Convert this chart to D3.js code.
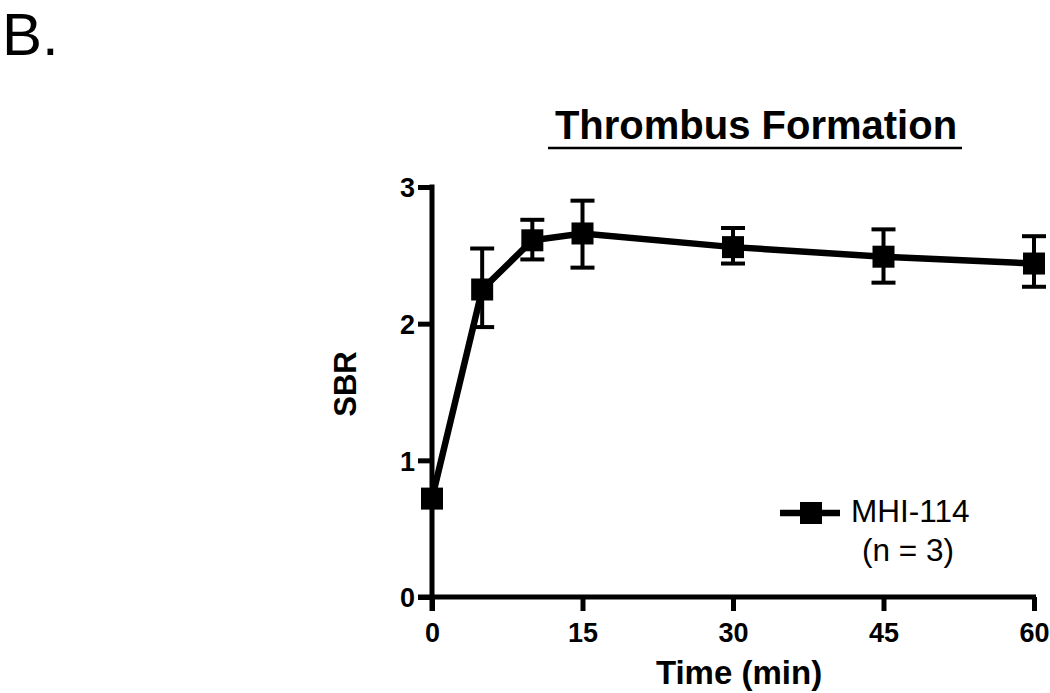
<!DOCTYPE html>
<html><head><meta charset="utf-8">
<script src="https://cdn.jsdelivr.net/npm/d3@7"></script>
<style>body{margin:0;background:#fff}svg{display:block}</style>
</head><body>
<svg id="c" width="1050" height="693"></svg>
<script>
const times = [0, 5, 10, 15, 30, 45, 60];
const sbrMean = [0.72, 2.25, 2.61, 2.66, 2.56, 2.49, 2.44];
const sbrUpper = [0.72, 2.55, 2.76, 2.90, 2.70, 2.69, 2.64];
const sbrLower = [0.72, 1.975, 2.47, 2.41, 2.44, 2.30, 2.27];
const xTicks = [0, 15, 30, 45, 60];
const yTicks = [0, 1, 2, 3];
const seriesName = "MHI-114";
const seriesNote = "(n = 3)";

const svg = d3.select("#c");
const x = d3.scaleLinear().domain([0, 60]).range([432, 1034]);
const y = d3.scaleLinear().domain([0, 3]).range([597, 187]);
const font = "Liberation Sans, Arial, sans-serif";

// Panel label
svg.append("text").attr("x", 2).attr("y", 55).attr("font-family", font)
  .attr("font-size", 60).text("B.");

// Title
svg.append("text").attr("x", 756).attr("y", 139).attr("text-anchor", "middle")
  .attr("font-family", font).attr("font-weight", "bold").attr("font-size", 40)
  .text("Thrombus Formation");
svg.append("line").attr("x1", 548).attr("x2", 962).attr("y1", 148).attr("y2", 148)
  .attr("stroke", "#000").attr("stroke-width", 2.5);

// Axes
const xAxis = d3.axisBottom(x).tickValues(xTicks).tickSize(14).tickSizeOuter(0).tickFormat(d3.format("d"));
const gx = svg.append("g").attr("transform", `translate(0,${y(0)})`).call(xAxis);
gx.select(".domain").attr("d", `M418,0H1036`);
const yAxis = d3.axisLeft(y).tickValues(yTicks).tickSize(14).tickSizeOuter(0).tickFormat(d3.format("d"));
const gy = svg.append("g").attr("transform", `translate(${x(0)},0)`).call(yAxis);
gy.select(".domain").attr("d", `M0,${y(3)-2.5}V${y(0)+14}`);
[gx, gy].forEach(g => {
  g.selectAll(".domain").attr("stroke", "#000").attr("stroke-width", 5).attr("fill", "none");
  g.selectAll(".tick line").attr("stroke", "#000").attr("stroke-width", 5);
  g.selectAll(".tick text").attr("font-family", font).attr("font-weight", "bold")
    .attr("font-size", 27).attr("fill", "#000");
});
gx.selectAll(".tick text").attr("y", 45).attr("dy", 0);
gy.selectAll(".tick text").attr("x", -17).attr("dy", "0.36em");

// Axis titles
svg.append("text").attr("x", 739).attr("y", 684).attr("text-anchor", "middle")
  .attr("font-family", font).attr("font-weight", "bold").attr("font-size", 33).text("Time (min)");
svg.append("text").attr("transform", "translate(356,384) rotate(-90)").attr("text-anchor", "middle")
  .attr("font-family", font).attr("font-weight", "bold").attr("font-size", 31).text("SBR");

const data = times.map((t, i) => ({t, m: sbrMean[i], hi: sbrUpper[i], lo: sbrLower[i]}));

// Error bars
const eb = svg.append("g").attr("stroke", "#000").attr("stroke-width", 4);
data.filter(d => d.hi > d.lo).forEach(d => {
  eb.append("line").attr("x1", x(d.t)).attr("x2", x(d.t)).attr("y1", y(d.hi)).attr("y2", y(d.lo));
  [d.hi, d.lo].forEach(v => eb.append("line").attr("x1", x(d.t) - 12).attr("x2", x(d.t) + 12)
    .attr("y1", y(v)).attr("y2", y(v)));
});

// Line
svg.append("path").datum(data)
  .attr("d", d3.line().x(d => x(d.t)).y(d => y(d.m)))
  .attr("fill", "none").attr("stroke", "#000").attr("stroke-width", 6.5);

// Markers
svg.append("g").selectAll("rect").data(data).join("rect")
  .attr("x", d => x(d.t) - 11).attr("y", d => y(d.m) - 11)
  .attr("width", 22).attr("height", 22).attr("fill", "#000");

// Legend
svg.append("line").attr("x1", 780).attr("x2", 840).attr("y1", 513).attr("y2", 513)
  .attr("stroke", "#000").attr("stroke-width", 6.5);
svg.append("rect").attr("x", 800).attr("y", 502).attr("width", 22).attr("height", 22).attr("fill", "#000");
svg.append("text").attr("x", 851).attr("y", 522).attr("font-family", font).attr("font-size", 31.5).text(seriesName);
svg.append("text").attr("x", 862).attr("y", 561).attr("font-family", font).attr("font-size", 31.5).text(seriesNote);
</script>
</body></html>
